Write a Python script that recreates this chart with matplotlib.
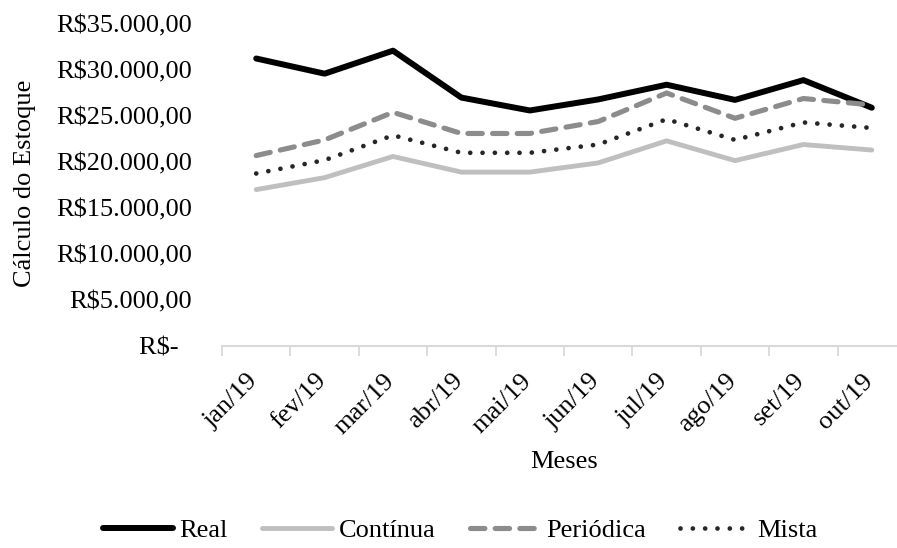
import matplotlib
matplotlib.use("Agg")
import matplotlib.pyplot as plt
import matplotlib.transforms as mtransforms
from matplotlib.ticker import FixedLocator, FuncFormatter

# Monthly inventory valuation by costing method (R$)
months = ["jan/19", "fev/19", "mar/19", "abr/19", "mai/19",
          "jun/19", "jul/19", "ago/19", "set/19", "out/19"]
real = [31250, 29600, 32100, 27000, 25600, 26800, 28400, 26750, 28900, 25900]
continua = [17000, 18300, 20600, 18900, 18900, 19900, 22300, 20150, 21900, 21300]
periodica = [20700, 22400, 25400, 23100, 23100, 24400, 27500, 24750, 26900, 26200]
mista = [18750, 20200, 22900, 21000, 21000, 21900, 24650, 22400, 24300, 23700]

series_names = ["Real", "Contínua", "Periódica", "Mista"]
y_ticks = [0, 5000, 10000, 15000, 20000, 25000, 30000, 35000]

plt.rcParams["font.family"] = ["Liberation Serif", "DejaVu Serif"]
FS = 19

W, H = 897, 548
fig = plt.figure(figsize=(W / 100, H / 100), dpi=100)
fig.patch.set_facecolor("white")

ax_left, ax_right = 222, 906
ax_top, ax_bottom = 24, 346
ax = fig.add_axes([ax_left / W, 1 - ax_bottom / H,
                   (ax_right - ax_left) / W, (ax_bottom - ax_top) / H])

x = list(range(len(months)))

ax.plot(x, real, color="#000000", lw=4.3, solid_capstyle="round",
        solid_joinstyle="round", label=series_names[0], zorder=3)
ax.plot(x, continua, color="#BFBFBF", lw=3.5, solid_capstyle="round",
        solid_joinstyle="round", label=series_names[1], zorder=3)
ax.plot(x, periodica, color="#8C8C8C", lw=3.7, linestyle=(0, (2.8, 2.0)),
        dash_capstyle="round", dash_joinstyle="round",
        label=series_names[2], zorder=3)
ax.plot(x, mista, color="#262626", lw=3.4, linestyle=(0, (0.01, 2.6)),
        dash_capstyle="round", label=series_names[3], zorder=3)

ax.set_xlim(-0.5, len(months) - 0.5)
ax.set_ylim(0, 35000)

# y axis: currency labels, no spine, no tick marks
def brl(v, pos):
    if v == 0:
        return "R$-  "
    s = f"{int(v):,}".replace(",", ".")
    return f"R${s},00"

ax.yaxis.set_major_locator(FixedLocator(y_ticks))
ax.yaxis.set_major_formatter(FuncFormatter(brl))
ax.tick_params(axis="y", length=0, pad=30 * 0.72, labelsize=FS,
               labelcolor="black")

# x axis: category labels at centres, tick marks at category boundaries
ax.set_xticks(x)
ax.set_xticklabels(months)
ax.set_xticks([i - 0.5 for i in range(len(months) + 1)], minor=True)
ax.tick_params(axis="x", which="major", length=0, pad=17, labelsize=FS,
               labelrotation=45)
ax.tick_params(axis="x", which="minor", length=7, width=1.3,
               color="#D9D9D9", direction="out")
offset = mtransforms.ScaledTranslation(6 / 100, 0, fig.dpi_scale_trans)
for lab in ax.get_xticklabels():
    lab.set_horizontalalignment("right")
    lab.set_verticalalignment("top")
    lab.set_transform(lab.get_transform() + offset)

for side in ["left", "right", "top"]:
    ax.spines[side].set_visible(False)
ax.spines["bottom"].set_color("#D9D9D9")
ax.spines["bottom"].set_linewidth(1.5)
ax.grid(False)

fig.text(564 / W, 1 - 462 / H, "Meses", ha="center", va="center", fontsize=FS)
fig.text(25 / W, 1 - 183 / H, "Cálculo do Estoque", ha="center", va="center",
         rotation=90, fontsize=FS)

fig.legend(loc="center", bbox_to_anchor=(460 / W, 1 - 530 / H), ncol=4,
           frameon=False, fontsize=FS, handlelength=2.65, handletextpad=0.25,
           columnspacing=1.3, borderaxespad=0, borderpad=0)

fig.savefig("out.png", dpi=100, facecolor="white")
